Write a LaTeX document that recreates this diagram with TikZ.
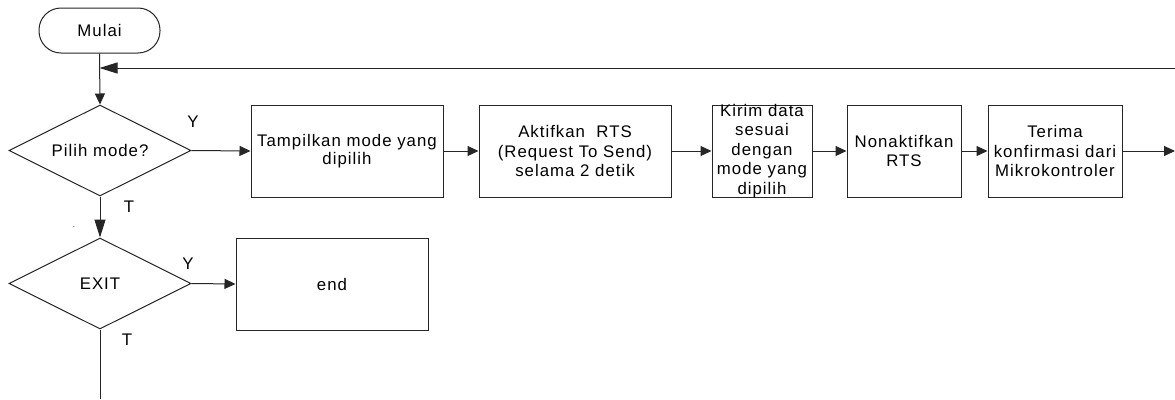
\documentclass[tikz,border=0pt]{standalone}
\usepackage{fontspec}
\setmainfont{Liberation Sans}[LetterSpace=6]
\usetikzlibrary{shapes.geometric,arrows.meta}
\begin{document}
\begin{tikzpicture}[x=1pt,y=-1pt,
  every node/.style={font=\fontsize{16.8}{19.5}\selectfont, inner sep=0pt},
  ln/.style={draw=black!85, line width=1pt},
  arr/.style={ln, -{Triangle[length=11pt,width=10pt]}},
  arrbig/.style={ln, -{Triangle[length=18pt,width=11pt]}},
  terminal/.style={ln, rounded corners=22pt, minimum width=121pt, minimum height=45pt},
  dia/.style={ln, diamond, aspect=2, minimum width=182pt, minimum height=91pt},
  procbox/.style={ln, rectangle, minimum height=92pt},
  txt/.style={align=center}
]
\useasboundingbox (0,0) rectangle (1175,399);
\fill[white] (0,0) rectangle (1175,399);

\node[terminal] (mulai) at (99.5,30.5) {Mulai};
\node[dia] (d1) at (100,150.5) {Pilih mode?};
\node[dia] (d2) at (100,283.5) {EXIT};

\node[procbox, minimum width=192pt] (b1) at (347,151) {};
\node[txt, font=\fontsize{16.8}{18}\selectfont] (t1) at (b1) {Tampilkan mode yang\\dipilih};
\node[procbox, minimum width=192pt] (b2) at (575,151) {};
\node[txt] (t2) at (b2) {Aktifkan\ \ RTS\\(Request To Send)\\selama 2 detik};
\node[procbox, minimum width=100pt] (b3) at (762,151) {};
\node[txt] (t3) at (b3) {Kirim data\\sesuai\\dengan\\mode yang\\dipilih};
\node[procbox, minimum width=114pt] (b4) at (904,151) {};
\node[txt] (t4) at (b4) {Nonaktifkan\\RTS};
\node[procbox, minimum width=134pt] (b5) at (1055,151) {};
\node[txt] (t5) at (b5) {Terima\\konfirmasi dari\\Mikrokontroler};
\node[procbox, minimum width=192pt] (endb) at (332,284) {};
\node[txt] (tend) at (endb) {end};

\node (ly1) at (193,122) {Y};
\node (lt1) at (129,207) {T};
\node (ly2) at (188,264) {Y};
\node (lt2) at (127,340) {T};
\node[font=\fontsize{8}{8}\selectfont] (dot) at (74,227) {.};

\coordinate (fb) at (1175,68);
\coordinate (out) at (1175,151);
\coordinate (bottom) at (100,399);

\draw[arr] (mulai.south) -- (d1.north);
\draw[arrbig] (fb) -- (mulai.south |- fb);
\draw[arr] (d1.east) -- (b1.west);
\draw[arr] (b1.east) -- (b2.west);
\draw[arr] (b2.east) -- (b3.west);
\draw[arr] (b3.east) -- (b4.west);
\draw[arr] (b4.east) -- (b5.west);
\draw[arr] (b5.east) -- (out);
\draw[arrbig] (d1.south) -- (d2.north);
\draw[arr] (d2.east) -- (endb.west);
\draw[ln] (d2.south) -- (bottom);
\end{tikzpicture}
\end{document}
